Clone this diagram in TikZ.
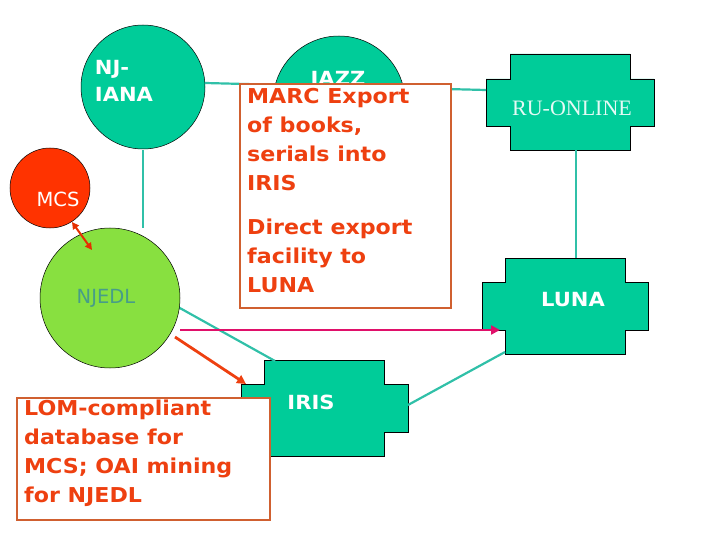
\documentclass[tikz,border=0pt]{standalone}
\usepackage{fontspec}
\setmainfont{DejaVu Sans}
\newfontfamily\wideb[FakeStretch=1.08]{DejaVu Sans Bold}
\newfontfamily\serifrm{Liberation Serif}
\usetikzlibrary{arrows.meta}
\definecolor{teal1}{HTML}{00CC99}
\definecolor{txtred}{HTML}{EE4010}
\definecolor{boxbrd}{HTML}{D06030}
\definecolor{mag}{HTML}{E0106A}
\definecolor{lgreen}{HTML}{88E040}
\definecolor{mcsred}{HTML}{FF3300}
\definecolor{lnteal}{HTML}{30C0A8}
\tikzset{
  conn/.style={draw=lnteal,line width=2.2pt},
  circ/.style={circle,draw=black,line width=0.5pt,fill=teal1},
  lbl/.style={font=\wideb\fontsize{20.5}{29}\selectfont,text=txtred,align=left,anchor=north west,inner sep=0pt},
  wlbl/.style={font=\wideb\fontsize{19.5}{24}\selectfont,text=white},
  tb/.style={draw=boxbrd,line width=1.4pt,fill=white},
}
\newcommand{\crossbox}[9]{%
  \fill[teal1,draw=black,line width=0.8pt] (#4,#6)--(#5,#6)--(#5,#8)--(#3,#8)--(#3,#9)--(#5,#9)--(#5,#7)--(#4,#7)--(#4,#9)--(#2,#9)--(#2,#8)--(#4,#8)--cycle;
  \coordinate (#1) at ({(#4+#5)/2},{(#6+#7)/2});
}
\begin{document}
\begin{tikzpicture}[x=1pt,y=-1pt]
\useasboundingbox (0,0) rectangle (720,540);
\node[circ,minimum size=124pt] (iana) at (143,87) {};
\node[circ,minimum size=132pt] (jazz) at (339,102) {};
\crossbox{ru}{486}{654}{510}{630}{54}{150}{79}{126}
\crossbox{luna}{482}{648}{505}{625}{258}{354}{282}{330}
\crossbox{iris}{241}{408}{264}{384}{360}{456}{384}{432}
\coordinate (ruW) at (486,90);
\coordinate (ianaE) at (205,83);
\draw[conn] (ianaE) -- (ruW);
\draw[conn] (576,150) -- (576,258);
\draw[conn] (143,150) -- (143,228);
\coordinate (irisNW) at (275,361);
\coordinate (njedlE) at (178,307);
\draw[conn] (njedlE) -- (irisNW);
\coordinate (lunaSW) at (505,352);
\coordinate (irisE) at (408,405);
\draw[conn] (lunaSW) -- (irisE);
\node[text=white!90!teal1,font=\serifrm\fontsize{22}{24}\selectfont] at (572,108) {RU-ONLINE};
\node[wlbl] at (573,300) {LUNA};
\node[wlbl] at (311,402) {IRIS};
\node[wlbl] at (338,80) {JAZZ};
\node[text=white,font=\wideb\fontsize{19.5}{27}\selectfont,align=left] at (124,81) {NJ-\\IANA};
\node[circle,draw=black,line width=0.5pt,fill=mcsred,minimum size=80pt] (mcs) at (50,188) {};
\node[text=white,font=\fontsize{19.5}{24}\selectfont] at (58,199) {MCS};
\node[circle,draw=black,line width=0.5pt,fill=lgreen,minimum size=140pt] (njedl) at (110,298) {};
\node[text=white!40!teal1!70!black,font=\fontsize{19.5}{24}\selectfont] at (106,298) {NJEDL};
\coordinate (mcsA) at (72,222);
\coordinate (njA) at (92,250);
\draw[draw=mcsred!90!black,line width=2pt,{Triangle[length=7pt,width=7pt]}-{Triangle[length=7pt,width=7pt]}] (mcsA) -- (njA);
\coordinate (magS) at (180,330);
\coordinate (magE) at (500,330);
\draw[draw=mag,line width=2.8pt,-{Triangle[length=9pt,width=9pt]}] (magS) -- (magE);
\coordinate (orS) at (175,337);
\coordinate (orE) at (246,384);
\draw[draw=txtred,line width=2.8pt,-{Triangle[length=9pt,width=9pt]}] (orS) -- (orE);
\draw[tb] (240,84) rectangle (451,308);
\node[lbl] (marc) at (247,88) {MARC Export\\of books,\\serials into\\IRIS\\[15pt]Direct export\\facility to\\LUNA};
\draw[tb] (17,398) rectangle (270,520);
\node[lbl] (lom) at (24,400) {LOM-compliant\\database for\\MCS; OAI mining\\for NJEDL};
\end{tikzpicture}
\end{document}
